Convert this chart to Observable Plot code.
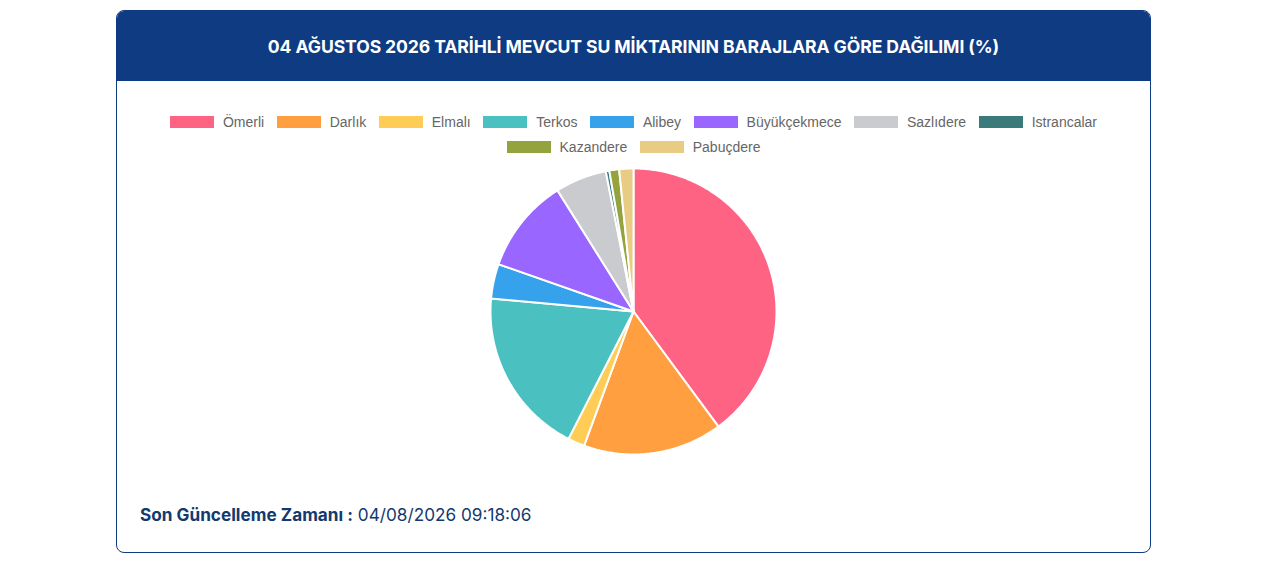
<!DOCTYPE html>
<html>
<head>
<meta charset="utf-8">
<script src="https://cdn.jsdelivr.net/npm/d3@7"></script>
<script src="https://cdn.jsdelivr.net/npm/@observablehq/plot@0.6"></script>
<style>
  html, body { margin: 0; padding: 0; background: #fff; }
  body { width: 1280px; height: 573px; position: relative; overflow: hidden; }
  .card { position: absolute; left: 116px; top: 10px; width: 1035px; height: 543px; box-sizing: border-box;
          border: 1px solid #0e3b82; border-radius: 8px; overflow: hidden; background: #fff; }
  .header { height: 70px; background: #0e3b82; color: #fff; text-align: center; line-height: 72px;
            font-family: Inter, sans-serif; font-weight: 700; font-size: 17.6px; letter-spacing: -0.1px; }
  .legend { position: absolute; left: 0; right: 0; top: 103px; display: flex; flex-wrap: wrap; justify-content: center;
            width: 960px; margin: 0 auto; column-gap: 12.5px; row-gap: 9px; font-family: "Liberation Sans", Arial, sans-serif;
            font-size: 14px; color: #666; }
  .item { display: flex; align-items: center; height: 16px; }
  .box { width: 44px; height: 12px; margin-right: 9px; }
  #chart { position: absolute; left: 371px; top: 155px; }
  .footer { position: absolute; left: 23px; top: 493px; font-family: Inter, sans-serif; font-size: 17.2px; color: #14396f; }
  .footer b { font-weight: 700; }
</style>
</head>
<body>
<div class="card">
  <div class="header" id="title"></div>
  <div class="legend" id="legend"></div>
  <div id="chart"></div>
  <div class="footer" id="footer"></div>
</div>
<script>
const title = "04 AĞUSTOS 2026 TARİHLİ MEVCUT SU MİKTARININ BARAJLARA GÖRE DAĞILIMI (%)";
const dams = ["Ömerli", "Darlık", "Elmalı", "Terkos", "Alibey", "Büyükçekmece", "Sazlıdere", "Istrancalar", "Kazandere", "Pabuçdere"];
const shares = [39.8, 15.7, 1.9, 18.9, 3.9, 10.7, 5.8, 0.4, 1.1, 1.6];
const colors = ["#ff6384", "#ff9f40", "#ffcd56", "#4bc0c0", "#36a2eb", "#9966ff", "#c9cbcf", "#3a7a7a", "#94a33d", "#e8cc83"];
const footerLabel = "Son Güncelleme Zamanı :";
const footerValue = "04/08/2026 09:18:06";

document.getElementById("title").textContent = title;
document.getElementById("footer").innerHTML = `<b>${footerLabel}</b> ${footerValue}`;

const legend = document.getElementById("legend");
dams.forEach((d, i) => {
  const it = document.createElement("div");
  it.className = "item";
  it.innerHTML = `<span class="box" style="background:${colors[i]}"></span><span>${d}</span>`;
  legend.appendChild(it);
});

const table = dams.map((name, i) => ({name, value: shares[i]}));
const arcs = d3.pie().sort(null).value(d => d.value)(table);
const pts = [];
for (const a of arcs) {
  pts.push({name: a.data.name, x: 0, y: 0});
  const n = Math.max(2, Math.ceil((a.endAngle - a.startAngle) / 0.01));
  for (let k = 0; k <= n; k++) {
    const t = a.startAngle + (a.endAngle - a.startAngle) * k / n;
    pts.push({name: a.data.name, x: Math.sin(t), y: Math.cos(t)});
  }
}

const chart = Plot.plot({
  width: 290, height: 290, margin: 2,
  x: {domain: [-1, 1], axis: null},
  y: {domain: [-1, 1], axis: null},
  color: {domain: dams, range: colors},
  marks: [
    Plot.line(pts, {x: "x", y: "y", z: "name", fill: "name", stroke: "#fff", strokeWidth: 2,
                    strokeLinejoin: "round", curve: "linear-closed"})
  ]
});
document.getElementById("chart").appendChild(chart);
</script>
</body>
</html>
